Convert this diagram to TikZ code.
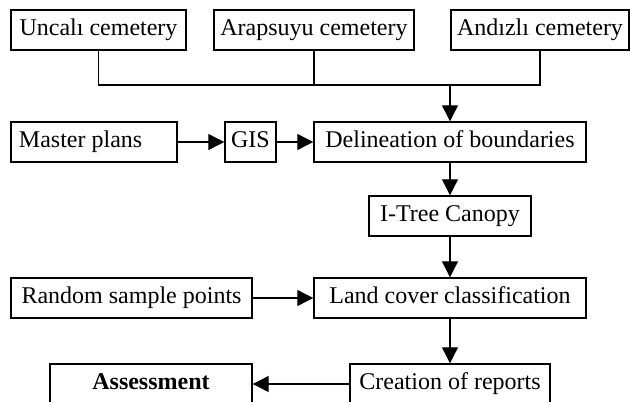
\documentclass[tikz,border=0pt]{standalone}
\usepackage{fontspec}
\setmainfont{Liberation Serif}
\usetikzlibrary{arrows.meta}
\begin{document}
\begin{tikzpicture}[x=1pt,y=-1pt,
  box/.style={draw=black, line width=1.4pt, inner sep=0pt, minimum height=40pt,
    font=\fontsize{24}{28}\selectfont, text height=16pt, text depth=5pt},
  conn/.style={draw=black, line width=1.1pt},
  arr/.style={conn, -{Triangle[length=16pt,width=16pt]}}]
\useasboundingbox (0,0) rectangle (630,402);
\clip (0,0) rectangle (630,402);
% top row
\node[box, minimum width=175pt] (unc) at (98.5,30) {Uncalı cemetery};
\node[box, minimum width=200pt] (ara) at (314,30) {Arapsuyu cemetery};
\node[box, minimum width=178pt] (and) at (540,30) {Andızlı cemetery};
% second row
\node[box, minimum width=166pt, text width=150pt, align=flush left, inner xsep=8pt] (mas) at (94,142) {Master plans};
\node[box, minimum width=51pt] (gis) at (250.5,142) {GIS};
\node[box, minimum width=272pt] (del) at (450,142) {Delineation of boundaries};
\node[box, minimum width=162pt] (itc) at (450,216) {I-Tree Canopy};
% fourth row
\node[box, minimum width=241pt] (ran) at (131.5,298) {Random sample points};
\node[box, minimum width=272pt] (lan) at (450,298) {Land cover classification};
% bottom row
\node[box, minimum width=202pt, font=\fontsize{24}{28}\selectfont\bfseries] (ass) at (151,384) {Assessment};
\node[box, minimum width=200pt] (cre) at (450,384) {Creation of reports};
% merge of the cemeteries
\coordinate (jl) at (unc.south |- 0,85);
\coordinate (jr) at (and.south |- 0,85);
\coordinate (jm) at (del.north |- 0,85);
\draw[conn] (unc.south) -- (jl) -- (jr) -- (and.south);
\draw[conn] (ara.south) -- (ara.south |- jl);
\draw[arr] (jm) -- (del.north);
% flow
\draw[arr] (mas.east) -- (gis.west);
\draw[arr] (gis.east) -- (del.west);
\draw[arr] (del.south) -- (itc.north);
\draw[arr] (itc.south) -- (lan.north);
\draw[arr] (ran.east) -- (lan.west);
\draw[arr] (lan.south) -- (cre.north);
\draw[arr] (cre.west) -- (ass.east);
\end{tikzpicture}
\end{document}
